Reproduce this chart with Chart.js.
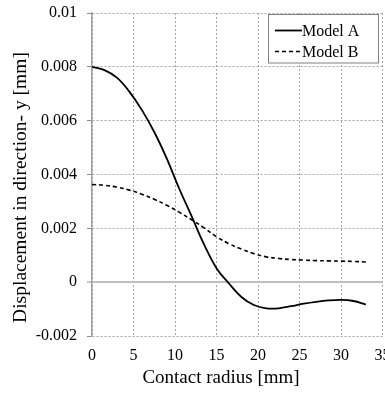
<!DOCTYPE html>
<html>
<head>
<meta charset="utf-8">
<script src="https://cdn.jsdelivr.net/npm/chart.js@4/dist/chart.umd.min.js"></script>
<style>
  html, body { margin: 0; padding: 0; background: #fff; }
  #wrap { width: 385px; height: 396px; }
</style>
</head>
<body>
<div id="wrap"><canvas id="c" width="385" height="396"></canvas></div>
<script>
const radius = [0, 1.5, 3, 4.5, 6, 7.5, 9, 10.5, 12, 13.5, 15, 16.5, 18, 19.5, 21, 22.5, 24, 25.5, 27, 28.5, 30, 31.5, 33];
const modelA = [0.0080, 0.00788, 0.0076, 0.00708, 0.0064, 0.00558, 0.0046, 0.00348, 0.00245, 0.0014, 0.00052, -0.00005, -0.00055, -0.00085, -0.00097, -0.00097, -0.00089, -0.0008, -0.00073, -0.00068, -0.00066, -0.0007, -0.00083];
const modelB = [0.00363, 0.0036, 0.00353, 0.00342, 0.00327, 0.00308, 0.00286, 0.0026, 0.00232, 0.00202, 0.00169, 0.00143, 0.00123, 0.00106, 0.00094, 0.00088, 0.00084, 0.00082, 0.0008, 0.00079, 0.00078, 0.00077, 0.00075];
const seriesNames = ['Model A', 'Model B'];
const xTitle = 'Contact radius [mm]';
const yTitle = 'Displacement in direction- y [mm]';

const FONT = 'Liberation Serif, Times New Roman, serif';

const decorPlugin = {
  id: 'decor',
  afterDraw(chart) {
    const ctx = chart.ctx;
    ctx.save();
    // axis titles
    ctx.fillStyle = '#000';
    ctx.textAlign = 'center';
    ctx.textBaseline = 'middle';
    ctx.font = '19px ' + FONT;
    ctx.fillText(xTitle, 221, 378);
    ctx.save();
    ctx.translate(21, 187.5);
    ctx.rotate(-Math.PI / 2);
    ctx.font = '19.5px ' + FONT;
    ctx.fillText(yTitle, 0, 0);
    ctx.restore();
    // legend box
    const x0 = 268.5, y0 = 14.5, w = 110, h = 48.5;
    ctx.fillStyle = '#fff';
    ctx.fillRect(x0, y0, w, h);
    ctx.strokeStyle = '#808080';
    ctx.lineWidth = 1;
    ctx.setLineDash([]);
    ctx.strokeRect(x0, y0, w, h);
    chart.data.datasets.forEach((ds, i) => {
      const cy = 30.5 + i * 21;
      ctx.strokeStyle = ds.borderColor;
      ctx.lineWidth = ds.borderWidth;
      ctx.setLineDash(ds.borderDash || []);
      ctx.beginPath();
      ctx.moveTo(275, cy);
      ctx.lineTo(302, cy);
      ctx.stroke();
      ctx.setLineDash([]);
      ctx.fillStyle = '#000';
      ctx.font = '16px ' + FONT;
      ctx.textBaseline = 'middle';
      ctx.textAlign = 'left';
      ctx.fillText(ds.label, 302, cy + 1);
    });
    ctx.restore();
  }
};

const chart = new Chart(document.getElementById('c'), {
  type: 'line',
  data: {
    datasets: [
      {
        label: seriesNames[0],
        data: radius.map((r, i) => ({ x: r, y: modelA[i] })),
        borderColor: '#000',
        borderWidth: 1.8,
        pointRadius: 0,
        tension: 0.4,
        fill: false
      },
      {
        label: seriesNames[1],
        data: radius.map((r, i) => ({ x: r, y: modelB[i] })),
        borderColor: '#000',
        borderWidth: 1.6,
        borderDash: [4, 3],
        pointRadius: 0,
        tension: 0.4,
        fill: false
      }
    ]
  },
  options: {
    responsive: false,
    animation: false,
    devicePixelRatio: 1,
    layout: { padding: { top: 13, right: 2.5, left: 0, bottom: 0 } },
    plugins: {
      legend: { display: false },
      tooltip: { enabled: false }
    },
    scales: {
      x: {
        type: 'linear',
        min: 0, max: 35,
        ticks: {
          stepSize: 5,
          color: '#000',
          font: { family: FONT, size: 16 },
          padding: 10,
          maxRotation: 0
        },
        grid: {
          color: '#a6a6a6',
          lineWidth: 1,
          drawTicks: false
        },
        border: { display: false, dash: [2, 2] },
        title: { display: false },
        afterFit(s) { s.height = 60; s.paddingLeft = 0; s.paddingRight = 0; }
      },
      y: {
        type: 'linear',
        min: -0.002, max: 0.01,
        ticks: {
          stepSize: 0.002,
          color: '#000',
          font: { family: FONT, size: 16 },
          padding: 10,
          callback: v => String(Number(v.toFixed(4)))
        },
        grid: {
          color: ctx => (ctx.tick && Math.abs(ctx.tick.value) < 1e-9) ? '#bfbfbf' : '#a6a6a6',
          lineWidth: ctx => (ctx.tick && Math.abs(ctx.tick.value) < 1e-9) ? 2 : 1,
          tickLength: 5,
          tickColor: '#8c8c8c',
          tickWidth: 1,
          tickBorderDash: []
        },
        border: {
          display: true,
          color: '#a0a0a0',
          width: 1.5,
          dash: ctx => (ctx.tick && Math.abs(ctx.tick.value) < 1e-9) ? [] : [2, 2]
        },
        title: { display: false },
        afterFit(s) { s.width = 92; s.paddingTop = 0; s.paddingBottom = 0; }
      }
    }
  },
  plugins: [decorPlugin]
});
</script>
</body>
</html>
